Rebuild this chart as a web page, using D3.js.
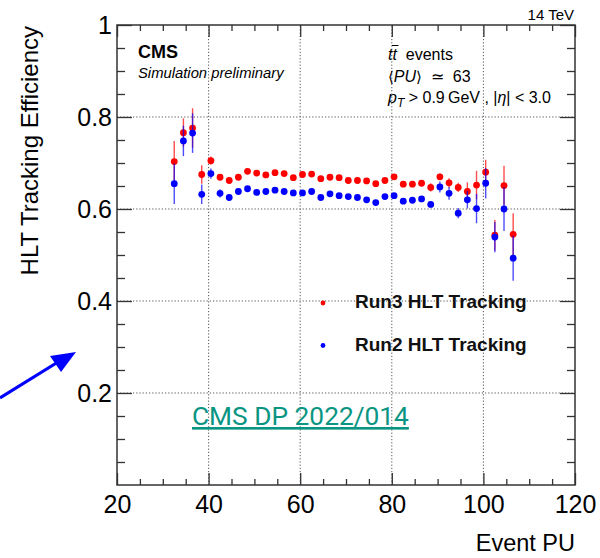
<!DOCTYPE html>
<html>
<head>
<meta charset="utf-8">
<script src="https://cdn.jsdelivr.net/npm/d3@7"></script>
<style>
  html, body { margin: 0; padding: 0; background: #fff; }
  svg { display: block; font-family: "Liberation Sans", Arial, Helvetica, sans-serif; }
</style>
</head>
<body>
<svg id="chart" width="600" height="558"></svg>
<script>
// ---- data ----
const pu = [32.5,34.5,36.5,38.5,40.5,42.5,44.5,46.5,48.5,50.5,52.5,54.5,56.5,58.5,60.5,62.5,64.5,66.5,68.5,70.5,72.5,74.5,76.5,78.5,80.5,82.5,84.5,86.5,88.5,90.5,92.5,94.5,96.5,98.5,100.5,102.5,104.5,106.5];
const run3Eff = [0.703,0.766,0.776,0.675,0.705,0.669,0.662,0.669,0.682,0.678,0.674,0.679,0.677,0.668,0.675,0.676,0.666,0.669,0.668,0.662,0.662,0.661,0.655,0.662,0.670,0.654,0.654,0.656,0.647,0.670,0.657,0.647,0.638,0.652,0.680,0.543,0.651,0.545];
const run3Err = [0.045,0.031,0.043,0.020,0.009,0.006,0.005,0.005,0.005,0.004,0.004,0.004,0.004,0.004,0.004,0.004,0.004,0.004,0.004,0.004,0.004,0.005,0.005,0.005,0.005,0.005,0.005,0.006,0.009,0.007,0.010,0.010,0.020,0.031,0.027,0.033,0.043,0.046];
const run2Eff = [0.655,0.748,0.765,0.632,0.677,0.634,0.625,0.638,0.644,0.636,0.638,0.641,0.638,0.635,0.635,0.638,0.625,0.633,0.629,0.627,0.625,0.620,0.614,0.627,0.629,0.617,0.619,0.622,0.610,0.648,0.634,0.591,0.620,0.601,0.656,0.539,0.600,0.493];
const run2Err = [0.044,0.033,0.043,0.021,0.011,0.009,0.005,0.005,0.005,0.005,0.005,0.005,0.005,0.005,0.005,0.005,0.005,0.005,0.005,0.005,0.005,0.005,0.005,0.005,0.005,0.005,0.005,0.005,0.006,0.012,0.014,0.011,0.019,0.032,0.033,0.033,0.048,0.049];
const seriesNames = ["Run3 HLT Tracking", "Run2 HLT Tracking"];
const seriesColors = ["#ff0000", "#0000ff"];
const xMajorTicks = [20,40,60,80,100,120];
const yMajorTicks = [0.2,0.4,0.6,0.8,1];

// ---- layout ----
const svg = d3.select("#chart");
svg.append("rect").attr("width",600).attr("height",558).attr("fill","#fff");
const x = d3.scaleLinear().domain([20,120]).range([117,575]);
const y = d3.scaleLinear().domain([0,1]).range([485,25]);
const frameColor = "#333";

// grid
const gGrid = svg.append("g").attr("stroke","#555").attr("stroke-width",1).attr("stroke-dasharray","1.2,2");
gGrid.selectAll("line.vx").data(xMajorTicks.filter(d=>d>20&&d<120)).join("line")
  .attr("x1",d=>x(d)).attr("x2",d=>x(d)).attr("y1",y(0)).attr("y2",y(1));
gGrid.selectAll("line.hy").data(yMajorTicks.filter(d=>d<1)).join("line")
  .attr("x1",x(20)).attr("x2",x(120)).attr("y1",d=>y(d)).attr("y2",d=>y(d));

// axes
const xMinor = d3.range(20,121,5).filter(d=>d%20!==0);
const yMinor = d3.range(0,21).map(i=>i*0.05).filter(d=>Math.abs(d*5-Math.round(d*5))>1e-6);
function styleAxis(g){ g.select(".domain").remove(); g.selectAll(".tick line").attr("stroke",frameColor).attr("stroke-width",1.3); }

svg.append("g").attr("transform",`translate(0,${y(0)})`)
  .call(d3.axisBottom(x).tickValues(xMajorTicks).tickSize(-12).tickPadding(10).tickFormat(d3.format("d")))
  .call(styleAxis)
  .call(g=>g.selectAll("text").attr("font-size",25).attr("fill","#000").attr("font-family","Liberation Sans, Arial, sans-serif"));
svg.append("g").attr("transform",`translate(0,${y(0)})`)
  .call(d3.axisBottom(x).tickValues(xMinor).tickSize(-6).tickFormat("")).call(styleAxis);
svg.append("g").attr("transform",`translate(0,${y(1)})`)
  .call(d3.axisTop(x).tickValues(xMajorTicks).tickSize(-12).tickFormat("")).call(styleAxis);
svg.append("g").attr("transform",`translate(0,${y(1)})`)
  .call(d3.axisTop(x).tickValues(xMinor).tickSize(-6).tickFormat("")).call(styleAxis);

svg.append("g").attr("transform",`translate(${x(20)},0)`)
  .call(d3.axisLeft(y).tickValues(yMajorTicks).tickSize(-15).tickPadding(5)
    .tickFormat(d=>d===1?"1":d3.format(".1f")(d)))
  .call(styleAxis)
  .call(g=>g.selectAll("text").attr("font-size",25).attr("fill","#000").attr("font-family","Liberation Sans, Arial, sans-serif"));
svg.append("g").attr("transform",`translate(${x(20)},0)`)
  .call(d3.axisLeft(y).tickValues(yMinor).tickSize(-8).tickFormat("")).call(styleAxis);
svg.append("g").attr("transform",`translate(${x(120)},0)`)
  .call(d3.axisRight(y).tickValues(yMajorTicks).tickSize(-15).tickFormat("")).call(styleAxis);
svg.append("g").attr("transform",`translate(${x(120)},0)`)
  .call(d3.axisRight(y).tickValues(yMinor).tickSize(-8).tickFormat("")).call(styleAxis);

// frame
svg.append("rect").attr("x",x(20)).attr("y",y(1)).attr("width",x(120)-x(20)).attr("height",y(0)-y(1))
  .attr("fill","none").attr("stroke",frameColor).attr("stroke-width",1.5);

// axis titles
svg.append("text").attr("transform",`translate(38,${y(1)+1}) rotate(-90)`).attr("text-anchor","end")
  .attr("font-size",24).attr("fill","#000").text("HLT Tracking Efficiency");
svg.append("text").attr("x",x(120)).attr("y",551).attr("text-anchor","end")
  .attr("font-size",23.5).attr("fill","#000").text("Event PU");

// data series
const series = [
  {name:seriesNames[0], color:seriesColors[0], vals:run3Eff, errs:run3Err},
  {name:seriesNames[1], color:seriesColors[1], vals:run2Eff, errs:run2Err}
];
series.forEach(s=>{
  const g = svg.append("g");
  const pts = pu.map((p,i)=>({p, v:s.vals[i], e:s.errs[i]}));
  g.selectAll("line").data(pts).join("line")
    .attr("x1",d=>x(d.p)).attr("x2",d=>x(d.p))
    .attr("y1",d=>y(d.v-d.e)).attr("y2",d=>y(d.v+d.e))
    .attr("stroke",s.color).attr("stroke-width",1.4).attr("stroke-opacity",0.7);
  g.selectAll("circle").data(pts).join("circle")
    .attr("cx",d=>x(d.p)).attr("cy",d=>y(d.v)).attr("r",3.4).attr("fill",s.color);
});

// legend
const leg = svg.append("g");
series.forEach((s,i)=>{
  const ly = 303 + i*42.5;
  leg.append("circle").attr("cx",323).attr("cy",ly).attr("r",2.4).attr("fill",s.color);
  leg.append("text").attr("x",355).attr("y",ly+5).attr("font-size",19).attr("font-weight","bold")
    .attr("fill","#111").text(s.name);
});

// CMS labels
svg.append("text").attr("x",138).attr("y",57.5).attr("font-size",18).attr("font-weight","bold").text("CMS");
svg.append("text").attr("x",138).attr("y",77.5).attr("font-size",14.8).attr("font-style","italic").text("Simulation preliminary");
svg.append("text").attr("x",574).attr("y",19.5).attr("text-anchor","end").attr("font-size",15).text("14 TeV");

// top-right info
const info = svg.append("g").attr("font-size",16).attr("fill","#000");
const t1 = info.append("text").attr("x",388).attr("y",60);
t1.append("tspan").attr("font-style","italic").text("tt");
t1.append("tspan").text("\u00a0\u00a0events");
info.append("line").attr("x1",392).attr("x2",398.5).attr("y1",45.5).attr("y2",45.5).attr("stroke","#000").attr("stroke-width",1);
const t2 = info.append("text").attr("x",388).attr("y",82);
t2.append("tspan").attr("font-family","DejaVu Sans").attr("font-size",15).text("\u27E8");
t2.append("tspan").attr("font-style","italic").text("PU");
t2.append("tspan").attr("font-family","DejaVu Sans").attr("font-size",15).text("\u27E9");
t2.append("tspan").text("\u00a0\u00a0\u2243\u00a0\u00a063");
const t3 = info.append("text").attr("x",388).attr("y",103);
t3.append("tspan").attr("font-style","italic").text("p");
t3.append("tspan").attr("font-style","italic").attr("font-size",12).attr("dy",4).text("T");
t3.append("tspan").attr("dy",-4).text(" > 0.9\u2009GeV , |");
t3.append("tspan").attr("font-style","italic").text("\u03B7");
t3.append("tspan").text("| < 3.0");

// link-like note
svg.append("text").attr("x",192).attr("y",425).attr("font-family","Roboto, sans-serif")
  .attr("font-size",26.3).attr("fill","#0a9582").attr("text-decoration","underline").text("CMS DP 2022/014");

// blue arrow annotation
const arrowG = svg.append("g");
arrowG.append("line").attr("x1",0).attr("y1",398).attr("x2",58).attr("y2",362)
  .attr("stroke","#0000ff").attr("stroke-width",3.2);
arrowG.append("path").attr("d","M76,352 L50,356 L61,372 Z").attr("fill","#0000ff");
</script>
</body>
</html>
